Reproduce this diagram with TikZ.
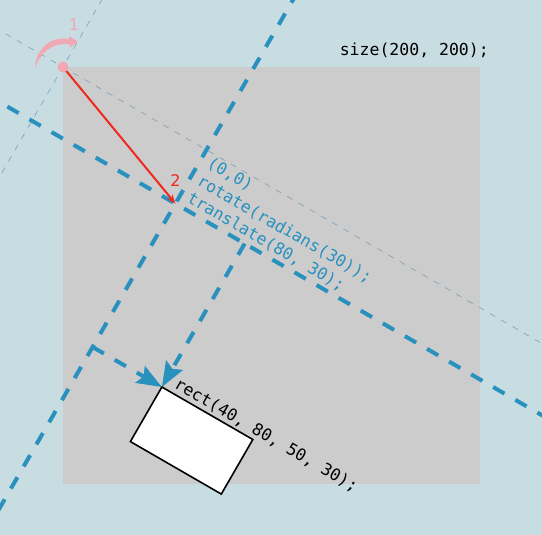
\documentclass[tikz,border=0pt]{standalone}
\usepackage{fontspec}
\newfontfamily\mono{DejaVu Sans Mono}
\newfontfamily\labelfont{DejaVu Sans}
\usetikzlibrary{arrows.meta}

\definecolor{bgblue}{RGB}{200,221,226}
\definecolor{canvasgray}{RGB}{204,204,204}
\definecolor{codeblue}{RGB}{40,145,190}
\definecolor{axisgray}{RGB}{120,160,185}
\definecolor{pinkmark}{RGB}{242,168,180}
\definecolor{redmark}{RGB}{240,40,30}

\begin{document}
\begin{tikzpicture}[x=1pt, y=-1pt,
    code/.style={font=\mono\fontsize{16.5}{18}\selectfont, inner sep=0pt},
    thinaxis/.style={draw=axisgray, line width=0.6pt, dash pattern=on 6pt off 7pt},
    thickaxis/.style={draw=codeblue, line width=4pt, dash pattern=on 13pt off 12.5pt},
    bigtip/.style={-{Stealth[length=25pt, width=19pt, inset=4pt]}}]

    % Hintergrund und Leinwand
    \fill[bgblue] (0,0) rectangle (542,535);
    \useasboundingbox (0,0) rectangle (542,535);
    \clip (0,0) rectangle (542,535);
    \fill[canvasgray] (63,67) rectangle (480,484);
    \node[code, anchor=base east] (size) at (489,56) {size(200, 200);};

    % gedrehtes Koordinatensystem im Ursprung
    \begin{scope}[shift={(63,67)}, rotate=-30]
        \coordinate (O) at (0,0);
        \draw[thinaxis] (-300,0) -- (800,0);
        \draw[thinaxis] (0,-300) -- (0,800);
    \end{scope}

    % verschobenes Koordinatensystem
    \begin{scope}[shift={(175.4,203.6)}, rotate=-30]
        \coordinate (T) at (0,0);
        \coordinate (ax) at (80,0);
        \coordinate (ay) at (0,165.6);
        \coordinate (corner) at (80,165.6);
        \draw[thickaxis] (-500,0) -- (700,0);
        \draw[thickaxis] (0,-500) -- (0,700);
        \draw[thickaxis, bigtip] (ax) -- (corner);
        \draw[thickaxis, bigtip] (ay) -- (corner);
        \draw[fill=white, line width=1.6pt] (corner) -- ++(105,0) -- ++(0,63) -- ++(-105,0) -- cycle;

        \node[code, text=codeblue, rotate=-30, anchor=base west] (zeroLabel) at (8,-47) {(0,0)};
        \node[code, text=codeblue, rotate=-30, anchor=base west] (rotLabel) at (8,-27) {rotate(radians(30));};
        \node[code, text=codeblue, rotate=-30, anchor=base west] (transLabel) at (8,-7) {translate(80, 30);};
        \node[code, rotate=-30, anchor=base west] (rectLabel) at (90,160.5) {rect(40, 80, 50, 30);};
    \end{scope}

    % Schritt 2: Verschiebung
    \draw[draw=redmark, line width=2pt, -{Stealth[length=9pt, width=7pt]}] (O) -- (T);
    \node[text=redmark, font=\labelfont\fontsize{16}{18}\selectfont] (two) at (175.5,181) {2};

    % Schritt 1: Drehung
    \fill[pinkmark] (O) circle[radius=5.5pt];
    \fill[pinkmark] (35,68) .. controls (36,49) and (50,36) .. (69,39) -- (69,36) -- (78,42)
        -- (70,47.5) -- (69.5,44.5) .. controls (54,42) and (41,51) .. (35,68) -- cycle;
    \node[text=pinkmark, font=\labelfont\fontsize{16}{18}\selectfont] (one) at (74,25) {1};
\end{tikzpicture}
\end{document}
